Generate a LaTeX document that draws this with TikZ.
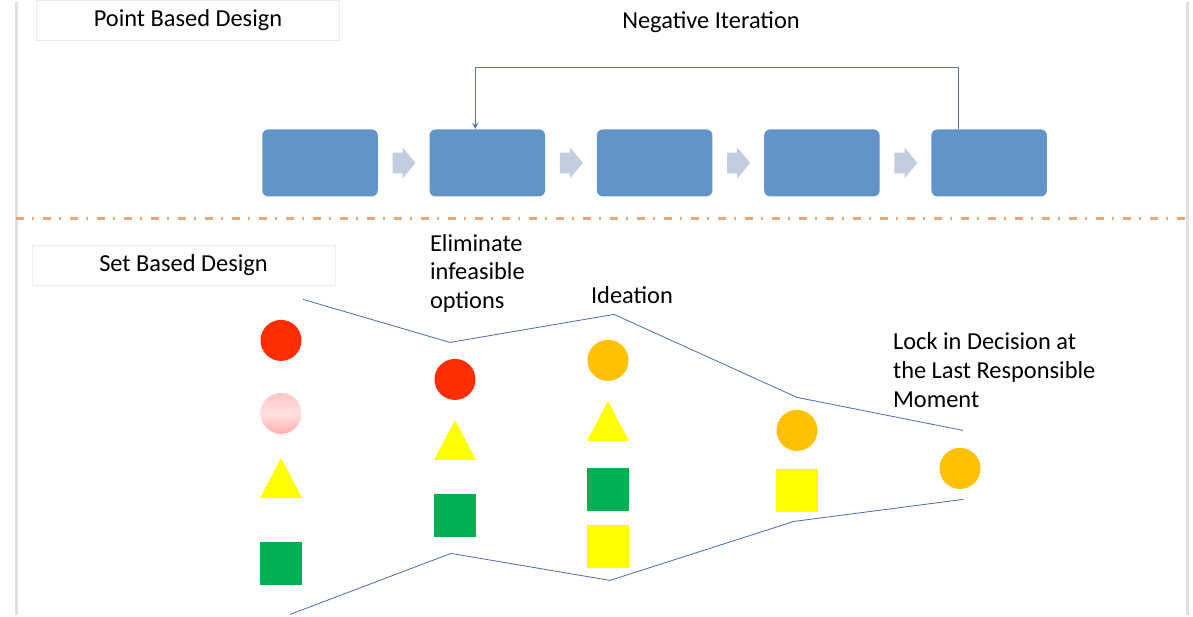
\documentclass[tikz,border=0pt]{standalone}
\usepackage{fontspec}
\setmainfont{Carlito}
\usetikzlibrary{positioning,shapes.geometric,shapes.arrows}

\definecolor{stageblue}{RGB}{97,149,202}
\definecolor{flowgrey}{RGB}{194,205,224}
\definecolor{loopblue}{RGB}{88,118,178}
\definecolor{funnelblue}{RGB}{72,108,176}
\definecolor{sepcolor}{RGB}{230,168,118}
\definecolor{optred}{RGB}{255,46,0}
\definecolor{optgold}{RGB}{255,192,0}
\definecolor{optyellow}{RGB}{255,255,0}
\definecolor{optgreen}{RGB}{0,176,80}

\begin{document}
\begin{tikzpicture}[x=0.5pt, y=-0.5pt,
    every node/.style={font=\fontsize{12.2}{14.4}\selectfont},
    stage/.style={rectangle, rounded corners=3pt, fill=stageblue,
                  minimum width=57.75pt, minimum height=33.5pt, inner sep=0pt},
    flow/.style={single arrow, fill=flowgrey, inner xsep=0pt, inner ysep=5pt,
                 minimum height=11.5pt, single arrow head extend=2.5pt,
                 single arrow tip angle=100},
    heading/.style={rectangle, draw=black!7, fill=white,
                    minimum width=151.5pt, minimum height=20pt},
    remark/.style={anchor=west, align=left},
    dot/.style={circle, inner sep=0pt, minimum size=20.5pt},
    tri/.style={isosceles triangle, isosceles triangle stretches,
                shape border rotate=90, inner sep=0pt, fill=optyellow,
                minimum width=21pt, minimum height=20pt},
    block/.style={rectangle, inner sep=0pt, minimum width=21pt,
                  minimum height=21.5pt}
  ]

    % page frame
    \fill [white] (0, 0) rectangle (1193, 613);
    \draw [black!12, line width=1.5pt] (16, 0) -- (16, 613);
    \draw [black!12, line width=1.5pt] (1187, 0) -- (1187, 613);

    % Point based design
    \node [heading] (pbd) at (188, 18) {Point Based Design};
    \node (neg) at (711, 20) {Negative Iteration};

    \node [stage] (b1) at (320, 160.5) {};
    \node [flow, right=7pt of b1] (a1) {};
    \node [stage, right=25.5pt of b1] (b2) {};
    \node [flow, right=7pt of b2] (a2) {};
    \node [stage, right=25.5pt of b2] (b3) {};
    \node [flow, right=7pt of b3] (a3) {};
    \node [stage, right=25.5pt of b3] (b4) {};
    \node [flow, right=7pt of b4] (a4) {};
    \node [stage, right=25.5pt of b4] (b5) {};

    % going back
    \draw [loopblue, thin, -stealth] ([xshift=-15.5pt]b5.north) -- ++(0, -62)
          -| ([xshift=-6pt]b2.north);

    % separator
    \draw [sepcolor, line width=1.8pt,
           dash pattern=on 4pt off 4pt on 1pt off 4.5pt] (16, 216) -- (1187, 216);

    % Set based design
    \node [heading] (sbd) at (183.5, 263) {Set Based Design};
    \node [remark] (elim) at (423, 271) {Eliminate\\infeasible\\options};
    \node [remark] (idea) at (584, 293) {Ideation};
    \node [remark] (lock) at (886, 368) {Lock in Decision at\\the Last Responsible\\Moment};

    % funnel
    \draw [funnelblue, thin] (303, 297) -- (450, 340) -- (614, 312)
          -- (797, 395) -- (963, 428);
    \draw [funnelblue, thin] (290, 612) -- (451, 551) -- (610, 578)
          -- (794, 519) -- (963, 497);

    % options
    \node [dot, fill=optred] (r1) at (281, 338) {};
    \node [dot, top color=red!22, bottom color=red!32, middle color=red!12] (p1) at (281, 411) {};
    \node [tri] (t1) at (281, 483) {};
    \node [block, fill=optgreen] (g1) at (281, 561) {};

    \node [dot, fill=optred] (r2) at (455, 377) {};
    \node [tri] (t2) at (455, 445) {};
    \node [block, fill=optgreen] (g2) at (455, 513) {};

    \node [dot, fill=optgold] (o3) at (608, 358) {};
    \node [tri] (t3) at (608, 426) {};
    \node [block, fill=optgreen] (g3) at (608, 487) {};
    \node [block, fill=optyellow] (y3) at (608, 544) {};

    \node [dot, fill=optgold] (o4) at (797, 428) {};
    \node [block, fill=optyellow] (y4) at (797, 488) {};

    \node [dot, fill=optgold] (o5) at (960, 466) {};

    \useasboundingbox (0, 0) rectangle (1193, 613);
\end{tikzpicture}
\end{document}
